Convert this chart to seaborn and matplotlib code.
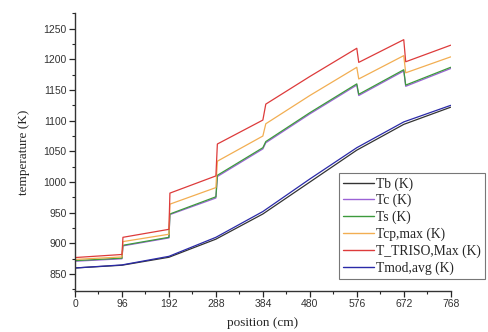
import pandas as pd
import numpy as np
import matplotlib
matplotlib.use('Agg')
import matplotlib.pyplot as plt
from matplotlib.ticker import MultipleLocator
import seaborn as sns

sns.set_style("ticks")

# positions (cm) for the stepped curves, jumps at block boundaries
pos_step = [0, 96, 98, 192, 194, 288, 291, 384, 390, 480, 576, 580, 672, 676, 768]
# positions for the smooth curves
pos_smooth = [0, 96, 192, 288, 384, 480, 576, 672, 768]

T_triso = [877, 882, 910, 923, 982, 1010, 1062, 1101, 1127, 1172, 1218, 1195, 1232, 1196, 1223]
T_cp = [874, 878, 903, 915, 964, 991, 1034, 1075, 1095, 1141, 1187, 1168, 1206, 1178, 1204]
T_s = [872, 876, 897, 910, 948, 976, 1011, 1056, 1066, 1113, 1160, 1143, 1183, 1158, 1187]
T_c = [871, 875, 896, 909, 947, 974, 1009, 1054, 1064, 1111, 1158, 1141, 1181, 1156, 1185]
T_b = [860, 864.5, 877.5, 907, 948, 1000, 1052, 1094, 1122]
T_mod = [860, 865, 879, 910, 952, 1005, 1056, 1098, 1125]

labels = ["Tb (K)", "Tc (K)", "Ts (K)", "Tcp,max (K)", "T_TRISO,Max (K)", "Tmod,avg (K)"]
colors = ["#333333", "#9b62d6", "#3c9a3c", "#f2ae52", "#dd3b3b", "#2a2aa8"]

series = {
    "Tb (K)": (pos_smooth, T_b),
    "Tc (K)": (pos_step, T_c),
    "Ts (K)": (pos_step, T_s),
    "Tcp,max (K)": (pos_step, T_cp),
    "T_TRISO,Max (K)": (pos_step, T_triso),
    "Tmod,avg (K)": (pos_smooth, T_mod),
}
df = pd.concat([pd.DataFrame({"position": x, "temperature": y, "series": name})
                for name, (x, y) in series.items()], ignore_index=True)

fig = plt.figure(figsize=(4.89, 3.32), dpi=100)
ax = fig.add_axes([0.1534, 0.1244, 0.7683, 0.8356])

sns.lineplot(data=df, x="position", y="temperature", hue="series", hue_order=labels,
             palette=dict(zip(labels, colors)), sort=False, estimator=None,
             linewidth=0.9, ax=ax, legend=False)

ax.set_xlim(0, 768)
ax.set_ylim(823, 1275)
ax.xaxis.set_major_locator(MultipleLocator(96))
ax.xaxis.set_minor_locator(MultipleLocator(48))
ax.yaxis.set_major_locator(MultipleLocator(50))
ax.yaxis.set_minor_locator(MultipleLocator(25))
ax.set_yticks(np.arange(850, 1251, 50))
ax.tick_params(which='major', length=4, width=0.9, labelsize=7.5, pad=2)
ax.tick_params(which='minor', length=2.5, width=0.8)
for lab in ax.get_xticklabels() + ax.get_yticklabels():
    lab.set_fontfamily('Liberation Sans')
    lab.set_color('#333333')
for s in ['left', 'bottom']:
    ax.spines[s].set_linewidth(1.0)
    ax.spines[s].set_color('#333333')
sns.despine(ax=ax)

ax.set_xlabel("position (cm)", fontfamily='Liberation Serif', fontsize=9.5, labelpad=6)
ax.set_ylabel("temperature (K)", fontfamily='Liberation Serif', fontsize=9.5, labelpad=10)

handles = [plt.Line2D([], [], color=c, linewidth=1.0) for c in colors]
leg = fig.legend(handles, labels, loc='upper left', bbox_to_anchor=(0.693, 0.479),
                 prop={'family': 'Liberation Serif', 'size': 9.8}, frameon=True,
                 fancybox=False, handlelength=2.3, handletextpad=0.15,
                 labelspacing=0.25, borderpad=0.3, borderaxespad=0)
leg.get_frame().set_edgecolor('#555555')
leg.get_frame().set_linewidth(0.8)

plt.savefig("out.png", dpi=100)
plt.close()
